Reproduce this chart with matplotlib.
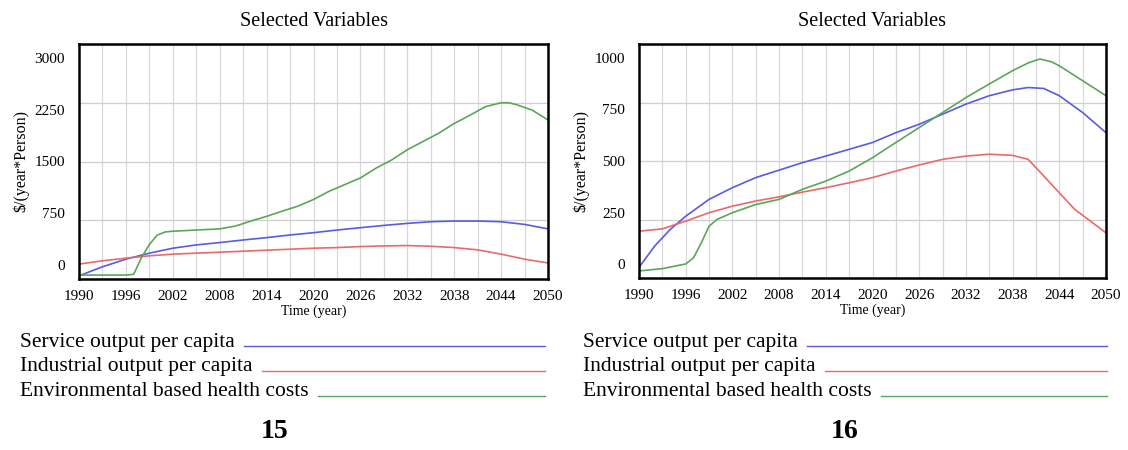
import matplotlib
matplotlib.use("Agg")
import matplotlib.pyplot as plt
import matplotlib.transforms as mtransforms
from matplotlib.lines import Line2D

plt.rcParams['font.family'] = ['Liberation Serif', 'DejaVu Serif']

# Panel 15 data
years_15_green = [1990, 1993, 1996, 1997, 1998, 1999, 2000, 2001, 2002, 2005, 2008, 2010, 2012, 2014,
                  2016, 2018, 2020, 2022, 2024, 2026, 2028, 2030, 2032, 2034, 2036, 2038, 2040,
                  2042, 2044, 2045, 2046, 2048, 2050]
green_15 = [50, 50, 50, 60, 275, 440, 560, 600, 610, 625, 640, 675, 740, 800,
            866, 930, 1015, 1120, 1205, 1290, 1415, 1520, 1650, 1755, 1860, 1985, 2090,
            2200, 2250, 2250, 2225, 2155, 2030]
years_15 = [1990, 1993, 1996, 1999, 2002, 2005, 2008, 2011, 2014, 2017, 2020, 2023, 2026,
            2029, 2032, 2035, 2038, 2041, 2044, 2047, 2050]
blue_15 = [40, 156, 253, 330, 393, 435, 465, 498, 528, 562, 591, 625, 655,
           684, 710, 731, 740, 740, 731, 697, 640]
red_15 = [190, 232, 266, 296, 317, 330, 342, 355, 368, 380, 393, 401, 414,
          422, 427, 418, 401, 372, 317, 253, 205]

# Panel 16 data
years_16_green = [1990, 1993, 1996, 1997, 1998, 1999, 2000, 2002, 2005, 2008, 2011, 2014, 2017,
                  2020, 2023, 2026, 2029, 2032, 2035, 2038, 2040, 2041.5, 2043, 2044, 2047, 2050]
green_16 = [30, 40, 60, 86, 150, 221, 250, 279, 314, 336, 379, 414, 457,
            514, 579, 643, 707, 771, 829, 886, 919, 936, 924, 907, 843, 779]
years_16_blue = [1990, 1992, 1994, 1996, 1999, 2002, 2005, 2008, 2011, 2014, 2017, 2020, 2023,
                 2026, 2029, 2032, 2035, 2038, 2040, 2042, 2044, 2047, 2050]
blue_16 = [45, 136, 207, 264, 336, 386, 429, 461, 493, 521, 550, 579, 621,
           657, 700, 743, 779, 804, 814, 810, 779, 707, 621]
years_16_red = [1990, 1993, 1996, 1999, 2002, 2005, 2008, 2011, 2014, 2017, 2020, 2023, 2026,
                2029, 2032, 2035, 2038, 2040, 2042, 2044, 2046, 2048, 2050]
red_16 = [200, 210, 243, 279, 307, 329, 347, 367, 386, 407, 429, 457, 483,
          507, 521, 529, 524, 507, 436, 364, 293, 243, 193]

xticks = list(range(1990, 2051, 6))
labels = ["Service output per capita", "Industrial output per capita",
          "Environmental based health costs"]
c_blue, c_red, c_green = "#5a5ae6", "#e86a6a", "#5aa65a"

W, H = 1128, 450
fig = plt.figure(figsize=(W / 100, H / 100), dpi=100)


def px_axes(x0, y0, x1, y1):
    return fig.add_axes([x0 / W, 1 - y1 / H, (x1 - x0) / W, (y1 - y0) / H])


def style(ax, ymax, ystep):
    ax.set_xlim(1990, 2050)
    ax.set_ylim(0, ymax)
    ax.set_xticks(xticks)
    ax.set_xticks(range(1990, 2051, 3), minor=True)
    yt = list(range(0, ymax + 1, ystep))
    ax.set_yticks(yt)
    ax.grid(True, which="both", axis="x", color="#d8d8d8", lw=0.9)
    ax.grid(True, which="major", axis="y", color="#cfcfcf", lw=0.9)
    ax.tick_params(which="both", length=0)
    ax.tick_params(axis="x", labelsize=11, pad=8)
    ax.tick_params(axis="y", labelsize=11, pad=10)
    for s in ax.spines.values():
        s.set_linewidth(1.8)
    ax.set_axisbelow(True)
    ax.set_title("Selected Variables", fontsize=14.5, pad=13)
    ax.set_xlabel("Time (year)", fontsize=10, labelpad=1)
    ax.set_ylabel("$/(year*Person)", fontsize=11.5, labelpad=4)
    # Vensim-style: outer y labels pulled inward towards the middle
    for lab, v in zip(ax.get_yticklabels(), yt):
        dy = -(v - ymax / 2) / (ymax / 2) * 10 / 72
        lab.set_transform(lab.get_transform() +
                          mtransforms.ScaledTranslation(0, dy, fig.dpi_scale_trans))


ax1 = px_axes(79, 44, 548, 279)
ax1.plot(years_15, blue_15, color=c_blue, lw=1.2)
ax1.plot(years_15, red_15, color=c_red, lw=1.2)
ax1.plot(years_15_green, green_15, color=c_green, lw=1.2)
style(ax1, 3000, 750)

ax2 = px_axes(639, 44, 1106, 278)
ax2.plot(years_16_blue, blue_16, color=c_blue, lw=1.2)
ax2.plot(years_16_red, red_16, color=c_red, lw=1.2)
ax2.plot(years_16_green, green_16, color=c_green, lw=1.2)
style(ax2, 1000, 250)

# legends below each chart
rows_y = [342, 367, 392]
colors = [c_blue, c_red, c_green]
texts = []
for x0, x_end in [(20, 545), (583, 1107)]:
    for lab, y, c in zip(labels, rows_y, colors):
        t = fig.text(x0 / W, 1 - y / H, lab, fontsize=15.5, va="center", ha="left")
        texts.append((t, y, c, x_end))

fig.canvas.draw()
r = fig.canvas.get_renderer()
for t, y, c, x_end in texts:
    bb = t.get_window_extent(r)
    xs = bb.x1 + 9
    fig.add_artist(Line2D([xs / W, x_end / W], [1 - (y + 4) / H] * 2,
                          color=c, lw=1.0, transform=fig.transFigure))

fig.text(275 / W, 1 - 431 / H, "15", fontsize=20, fontweight="bold", ha="center", va="center")
fig.text(845 / W, 1 - 431 / H, "16", fontsize=20, fontweight="bold", ha="center", va="center")

fig.savefig("out.png", dpi=100)
